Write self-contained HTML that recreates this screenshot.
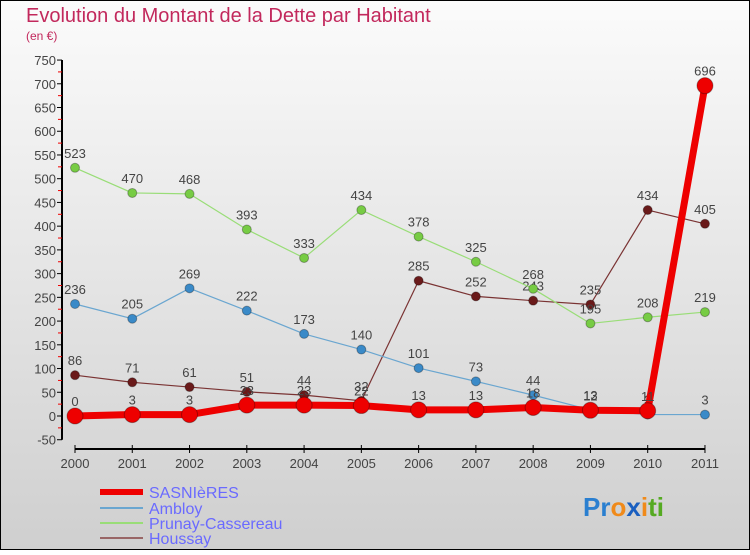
<!DOCTYPE html>
<html><head><meta charset="utf-8"><style>
body{margin:0;width:750px;height:550px;overflow:hidden;font-family:"Liberation Sans",sans-serif}
svg text{font-family:"Liberation Sans",sans-serif}
</style></head><body>
<svg id="c" width="750" height="550" xmlns="http://www.w3.org/2000/svg">
<defs><linearGradient id="bg" x1="0" y1="0" x2="0" y2="1"><stop offset="0" stop-color="#fbfbfb"/><stop offset="1" stop-color="#cfcfcf"/></linearGradient></defs>
<rect x="0.5" y="0.5" width="749" height="549" fill="url(#bg)" stroke="#000"/>
<text x="26" y="22" font-size="20" fill="#c2285c">Evolution du Montant de la Dette par Habitant</text>
<text x="26" y="40" font-size="12" fill="#c2285c">(en €)</text>
<g id="axes"></g><g id="series"></g>
<g>
<line x1="100" y1="492" x2="143" y2="492" stroke="#ee0000" stroke-width="6"/>
<text x="149" y="498" font-size="16" fill="#6a6aff">SASNIèRES</text>
<line x1="100" y1="508" x2="143" y2="508" stroke="#6aa6d0" stroke-width="2"/>
<text x="149" y="514" font-size="16" fill="#6a6aff">Ambloy</text>
<line x1="100" y1="523" x2="143" y2="523" stroke="#99dd77" stroke-width="2"/>
<text x="149" y="529" font-size="16" fill="#6a6aff">Prunay-Cassereau</text>
<line x1="100" y1="538" x2="143" y2="538" stroke="#996666" stroke-width="2"/>
<text x="149" y="544" font-size="16" fill="#6a6aff">Houssay</text>
</g>
<text x="583" y="516" font-size="26" font-weight="bold"><tspan fill="#2a7fd0">Pr</tspan><tspan fill="#f08a1a">o</tspan><tspan fill="#1a5fc0">x</tspan><tspan fill="#f08a1a">i</tspan><tspan fill="#55aa22">ti</tspan></text>
</svg>
<script>
const years=[2000,2001,2002,2003,2004,2005,2006,2007,2008,2009,2010,2011];
const yTicks=[-50,0,50,100,150,200,250,300,350,400,450,500,550,600,650,700,750];
const sasnieres=[0,3,3,23,23,22,13,13,18,12,11,696];
const ambloy=[236,205,269,222,173,140,101,73,44,13,3,3];
const prunay=[523,470,468,393,333,434,378,325,268,195,208,219];
const houssay=[86,71,61,51,44,32,285,252,243,235,434,405];
const NS="http://www.w3.org/2000/svg";
const X=i=>75+i*57.27, Y=v=>416-v*23.73/50;
function mk(t,a,p){const e=document.createElementNS(NS,t);for(const k in a)e.setAttribute(k,a[k]);p.appendChild(e);return e;}
const ax=document.getElementById('axes');
const yl=mk('line',{x1:62,y1:Y(750),x2:62,y2:Y(-50),stroke:'#000','stroke-width':2},ax);


yTicks.forEach(v=>{
 mk('line',{x1:57,y1:Y(v),x2:62,y2:Y(v),stroke:'#000'},ax);
 if(v<750) mk('line',{x1:58,y1:Y(v+25),x2:62,y2:Y(v+25),stroke:'#e00'},ax);
 const t=mk('text',{x:56,y:Y(v)+5,'font-size':13,fill:'#444','text-anchor':'end'},ax);t.textContent=v;
 
 
});
const xl=mk('line',{x1:75,y1:449,x2:X(11),y2:449,stroke:'#000','stroke-width':2},ax);


years.forEach((y,i)=>{
 mk('line',{x1:X(i),y1:445,x2:X(i),y2:453,stroke:'#000'},ax);
 const t=mk('text',{x:X(i),y:468,'font-size':13,fill:'#444','text-anchor':'middle'},ax);t.textContent=y;
 
 
});
const sg=document.getElementById('series');
function draw(data,col,dot,w,r,name){
 const g=mk('g',{},sg);
 
 
 mk('polyline',{points:data.map((v,i)=>X(i)+','+Y(v)).join(' '),fill:'none',stroke:col,'stroke-width':w,'stroke-linejoin':'round'},g);
 data.forEach((v,i)=>{
  const c=mk('circle',{cx:X(i),cy:Y(v),r:r,fill:dot,stroke:'rgba(0,0,0,0.3)'},g);
  
  
  const t=mk('text',{x:X(i),y:Y(v)-10,'font-size':13,fill:'#444','text-anchor':'middle'},g);t.textContent=v;
 });
}
draw(houssay,'#7a3333','#6a1a1a',1.2,4.5,'houssay-series');
draw(prunay,'#99dd77','#77cc44',1.2,4.5,'prunay-series');
draw(ambloy,'#6aa6d0','#3a8ac8',1.2,4.5,'ambloy-series');
draw(sasnieres,'#ee0000','#ee0000',7,8,'sasnieres-series');
</script>
</body></html>
